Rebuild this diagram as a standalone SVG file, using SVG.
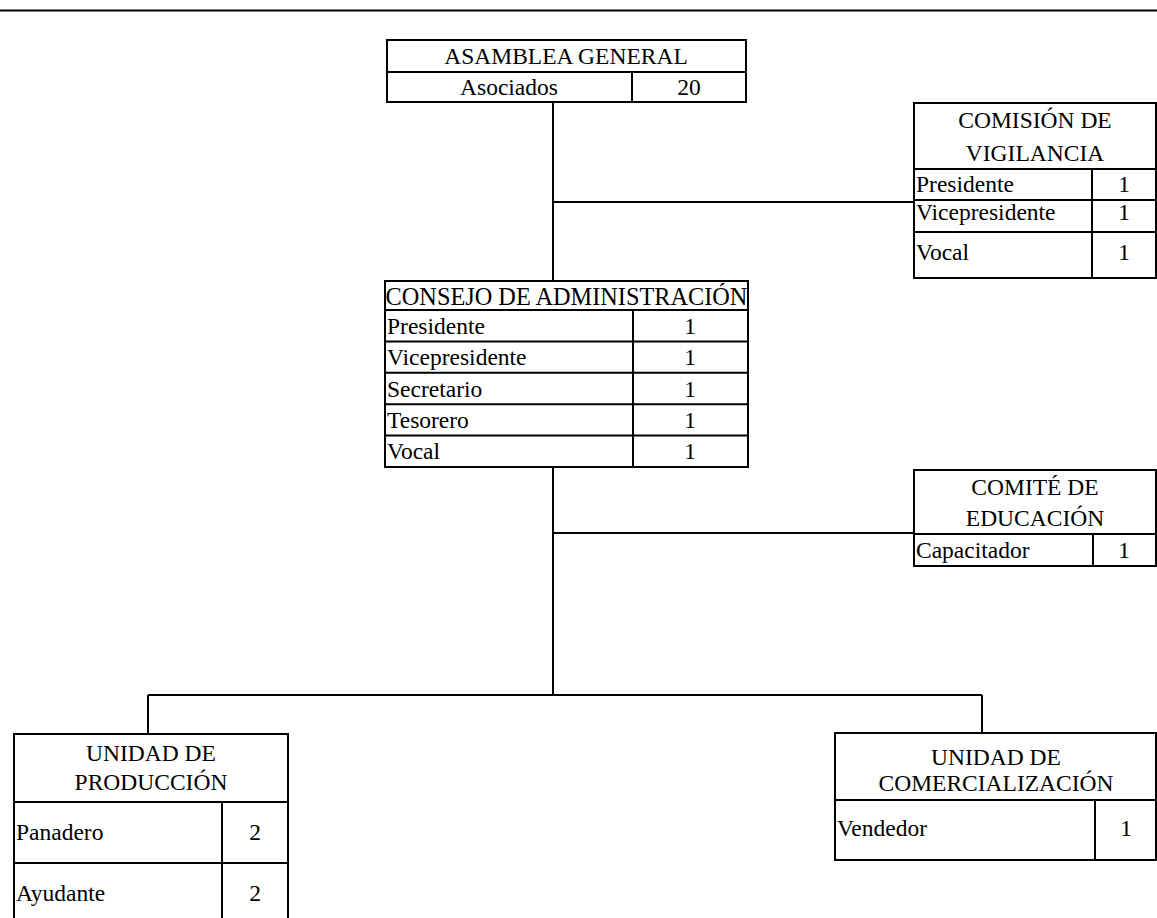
<svg xmlns="http://www.w3.org/2000/svg" width="1157" height="918" viewBox="0 0 1157 918">
<style>
.box{fill:#fff;stroke:#000;stroke-width:2}
.ln{stroke:#000;stroke-width:2;fill:none}
text{font-family:'Liberation Serif','Times New Roman',serif;font-size:23.5px;fill:#000}
.c{text-anchor:middle}
</style>
<rect width="1157" height="918" fill="#fff"/>
<line class="ln" x1="0" y1="10.5" x2="1157" y2="10.5"/>
<g id="connectors">
<path class="ln" d="M553,102 V281 M553,202 H914 M553,467 V695 M553,533 H914 M148,695 H982 M148,695 V734 M982,695 V733"/>
</g>
<g id="asamblea">
<rect class="box" x="387" y="40" width="359" height="62"/>
<path class="ln" d="M387,72 H746 M632,72 V102"/>
<text class="c" x="566" y="64">ASAMBLEA GENERAL</text>
<text class="c" x="509" y="95">Asociados</text>
<text class="c" x="689" y="95">20</text>
</g>
<g id="comision">
<rect class="box" x="914" y="103" width="242" height="175"/>
<path class="ln" d="M914,169 H1156 M914,200 H1156 M914,232 H1156 M1092,169 V278"/>
<text class="c" x="1035" y="128">COMISIÓN DE</text>
<text class="c" x="1035" y="161">VIGILANCIA</text>
<text x="916" y="192">Presidente</text>
<text class="c" x="1124" y="192">1</text>
<text x="916" y="220">Vicepresidente</text>
<text class="c" x="1124" y="220">1</text>
<text x="916" y="260">Vocal</text>
<text class="c" x="1124" y="260">1</text>
</g>
<g id="consejo">
<rect class="box" x="385" y="281" width="363" height="186"/>
<path class="ln" d="M385,310 H748 M385,341.4 H748 M385,372.8 H748 M385,404.2 H748 M385,435.6 H748 M633,310 V467"/>
<text class="c" x="566.5" y="305" style="font-size:24.3px">CONSEJO DE ADMINISTRACIÓN</text>
<text x="387" y="334">Presidente</text>
<text class="c" x="690" y="334">1</text>
<text x="387" y="365">Vicepresidente</text>
<text class="c" x="690" y="365">1</text>
<text x="387" y="397">Secretario</text>
<text class="c" x="690" y="397">1</text>
<text x="387" y="428">Tesorero</text>
<text class="c" x="690" y="428">1</text>
<text x="387" y="459">Vocal</text>
<text class="c" x="690" y="459">1</text>
</g>
<g id="comite">
<rect class="box" x="914" y="470" width="242" height="96"/>
<path class="ln" d="M914,534 H1156 M1093,534 V566"/>
<text class="c" x="1035" y="495">COMITÉ DE</text>
<text class="c" x="1035" y="526">EDUCACIÓN</text>
<text x="916" y="558">Capacitador</text>
<text class="c" x="1124" y="558">1</text>
</g>
<g id="produccion">
<rect class="box" x="14" y="734" width="274" height="190"/>
<path class="ln" d="M14,802 H288 M14,863 H288 M222,802 V924"/>
<text class="c" x="151" y="761">UNIDAD DE</text>
<text class="c" x="151" y="790">PRODUCCIÓN</text>
<text x="16" y="840">Panadero</text>
<text class="c" x="255" y="840">2</text>
<text x="16" y="901">Ayudante</text>
<text class="c" x="255" y="901">2</text>
</g>
<g id="comercializacion">
<rect class="box" x="835" y="733" width="321" height="127"/>
<path class="ln" d="M835,800 H1156 M1095,800 V860"/>
<text class="c" x="996" y="765">UNIDAD DE</text>
<text class="c" x="996" y="791">COMERCIALIZACIÓN</text>
<text x="837" y="836">Vendedor</text>
<text class="c" x="1126" y="836">1</text>
</g>
</svg>
